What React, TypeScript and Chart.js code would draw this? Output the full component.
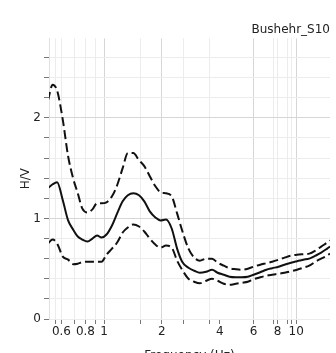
import React, { useEffect, useRef } from "react";
import { Chart, registerables } from "chart.js";

Chart.register(...registerables);

const chartTitle = "Bushehr_S10";
const xAxisTitle = "Frequency (Hz)";
const yAxisTitle = "H/V";

const frequency = [
  0.51, 0.54, 0.57, 0.61, 0.65, 0.69, 0.73, 0.77, 0.82, 0.87, 0.92, 0.97, 1.03, 1.1, 1.17, 1.25, 1.33,
  1.42, 1.52, 1.62, 1.73, 1.85, 1.97, 2.1, 2.25, 2.4, 2.55, 2.75, 2.95, 3.15, 3.4, 3.65, 3.9, 4.2, 4.5,
  4.85, 5.2, 5.6, 6.0, 6.5, 7.0, 7.5, 8.1, 8.7, 9.4, 10.1, 10.9, 11.7, 12.6, 13.5, 14.5, 15.0,
];

const meanHV = [
  1.3, 1.34, 1.36, 1.18, 0.98, 0.89, 0.82, 0.79, 0.77, 0.8, 0.83, 0.81, 0.84, 0.93, 1.05, 1.17, 1.23,
  1.25, 1.23, 1.17, 1.07, 1.01, 0.98, 0.99, 0.9, 0.7, 0.57, 0.51, 0.48, 0.46, 0.47, 0.49, 0.46, 0.44, 0.42,
  0.415, 0.415, 0.42, 0.44, 0.465, 0.49, 0.505, 0.52, 0.54, 0.56, 0.575, 0.59, 0.6, 0.63, 0.66, 0.7, 0.72,
];

const upperHV = [
  2.17, 2.33, 2.27, 1.98, 1.62, 1.4, 1.25, 1.1, 1.06, 1.09, 1.15, 1.15, 1.16, 1.22, 1.33, 1.5, 1.65,
  1.65, 1.58, 1.52, 1.42, 1.32, 1.26, 1.25, 1.22, 1.05, 0.88, 0.7, 0.61, 0.58, 0.6, 0.6, 0.56, 0.53, 0.505,
  0.495, 0.49, 0.5, 0.52, 0.54, 0.555, 0.57, 0.59, 0.61, 0.63, 0.64, 0.645, 0.65, 0.68, 0.72, 0.76, 0.78,
];

const lowerHV = [
  0.75, 0.79, 0.75, 0.62, 0.59, 0.545, 0.55, 0.565, 0.57, 0.57, 0.57, 0.57, 0.64, 0.7, 0.76, 0.86, 0.91,
  0.94, 0.92, 0.87, 0.8, 0.74, 0.71, 0.73, 0.71, 0.58, 0.49, 0.4, 0.37, 0.355, 0.38, 0.4, 0.38, 0.35, 0.34,
  0.35, 0.36, 0.37, 0.395, 0.415, 0.43, 0.44, 0.45, 0.46, 0.475, 0.49, 0.51, 0.53, 0.57, 0.6, 0.63, 0.65,
];

const xTickValues = [0.56, 0.6, 0.7, 0.8, 0.9, 1, 1.54, 2, 2.58, 3.56, 4, 6, 7.6, 8, 9, 9.4, 10];
const xTickLabels = ["", "0.6", "", "0.8", "", "1", "", "2", "", "", "4", "6", "", "8", "", "", "10"];
const xMajor = [1, 2, 6, 10];

const yTickValues = [0, 0.2, 0.4, 0.6, 0.8, 1, 1.2, 1.4, 1.6, 1.8, 2, 2.2, 2.4, 2.6];
const yTickLabels = ["0", "", "", "", "", "1", "", "", "", "", "2", "", "", ""];

const FONT = "'DejaVu Sans', Verdana, sans-serif";

export default function App() {
  const canvasRef = useRef<HTMLCanvasElement | null>(null);

  useEffect(() => {
    document.body.style.margin = "0";
    const canvas = canvasRef.current;
    if (!canvas) return;

    const toPts = (ys: number[]) => frequency.map((f, i) => ({ x: f, y: ys[i] }));
    const lineCommon = {
      borderColor: "#111",
      borderWidth: 2,
      pointRadius: 0,
      fill: false,
      cubicInterpolationMode: "monotone" as const,
    };

    const chart = new Chart(canvas, {
      type: "line",
      data: {
        datasets: [
          { label: "upper", data: toPts(upperHV), ...lineCommon, borderDash: [9, 4] },
          { label: "mean", data: toPts(meanHV), ...lineCommon },
          { label: "lower", data: toPts(lowerHV), ...lineCommon, borderDash: [9, 4] },
        ],
      },
      options: {
        responsive: false,
        animation: false,
        layout: { padding: { left: 0, right: 6, top: 0, bottom: 0 } },
        plugins: {
          legend: { display: false },
          tooltip: { enabled: false },
          title: {
            display: true,
            text: chartTitle,
            align: "end",
            color: "#222",
            font: { family: FONT, size: 12, weight: "normal" },
            padding: { top: 23, bottom: 1 },
          },
        },
        scales: {
          x: {
            type: "logarithmic",
            min: 0.517,
            max: 15,
            afterBuildTicks: (scale: any) => {
              scale.ticks = xTickValues.map((v) => ({ value: v }));
            },
            afterFit: (scale: any) => {
              scale.height = 34;
            },
            ticks: {
              autoSkip: false,
              maxRotation: 0,
              minRotation: 0,
              padding: 1,
              color: "#222",
              font: { family: FONT, size: 12 },
              callback: (value: any) => {
                const i = xTickValues.indexOf(Number(value));
                return i >= 0 ? xTickLabels[i] : "";
              },
            },
            grid: {
              color: (ctx: any) => {
                const v = ctx.tick ? ctx.tick.value : null;
                if (v === 4) return "rgba(0,0,0,0)";
                return xMajor.includes(v) ? "#d6d6d6" : "#ececec";
              },
              tickColor: "#777",
              tickLength: 5,
              lineWidth: 1,
            },
            border: { display: false },
            title: {
              display: true,
              text: xAxisTitle,
              color: "#222",
              font: { family: FONT, size: 12 },
              padding: { top: 0, bottom: -10 },
            },
          },
          y: {
            type: "linear",
            min: 0,
            max: 2.79,
            afterBuildTicks: (scale: any) => {
              scale.ticks = yTickValues.map((v) => ({ value: v }));
            },
            afterFit: (scale: any) => {
              scale.width = 49;
            },
            ticks: {
              autoSkip: false,
              padding: 3,
              color: "#222",
              font: { family: FONT, size: 12 },
              callback: (value: any) => {
                const i = yTickValues.findIndex((v) => Math.abs(v - Number(value)) < 1e-6);
                return i >= 0 ? yTickLabels[i] : "";
              },
            },
            grid: {
              color: (ctx: any) => {
                const v = ctx.tick ? ctx.tick.value : null;
                return v === 1 || v === 2 ? "#d6d6d6" : "#ececec";
              },
              tickColor: "#777",
              tickLength: 5,
              lineWidth: 1,
            },
            border: { display: true, color: "#e0e0e0" },
            title: {
              display: true,
              text: yAxisTitle,
              color: "#222",
              font: { family: FONT, size: 12 },
              padding: { top: 19, bottom: 0 },
            },
          },
        },
      },
    });

    return () => chart.destroy();
  }, []);

  return (
    <div style={{ width: 336, height: 353, overflow: "hidden", background: "#fff" }}>
      <canvas ref={canvasRef} width={336} height={353} />
    </div>
  );
}
